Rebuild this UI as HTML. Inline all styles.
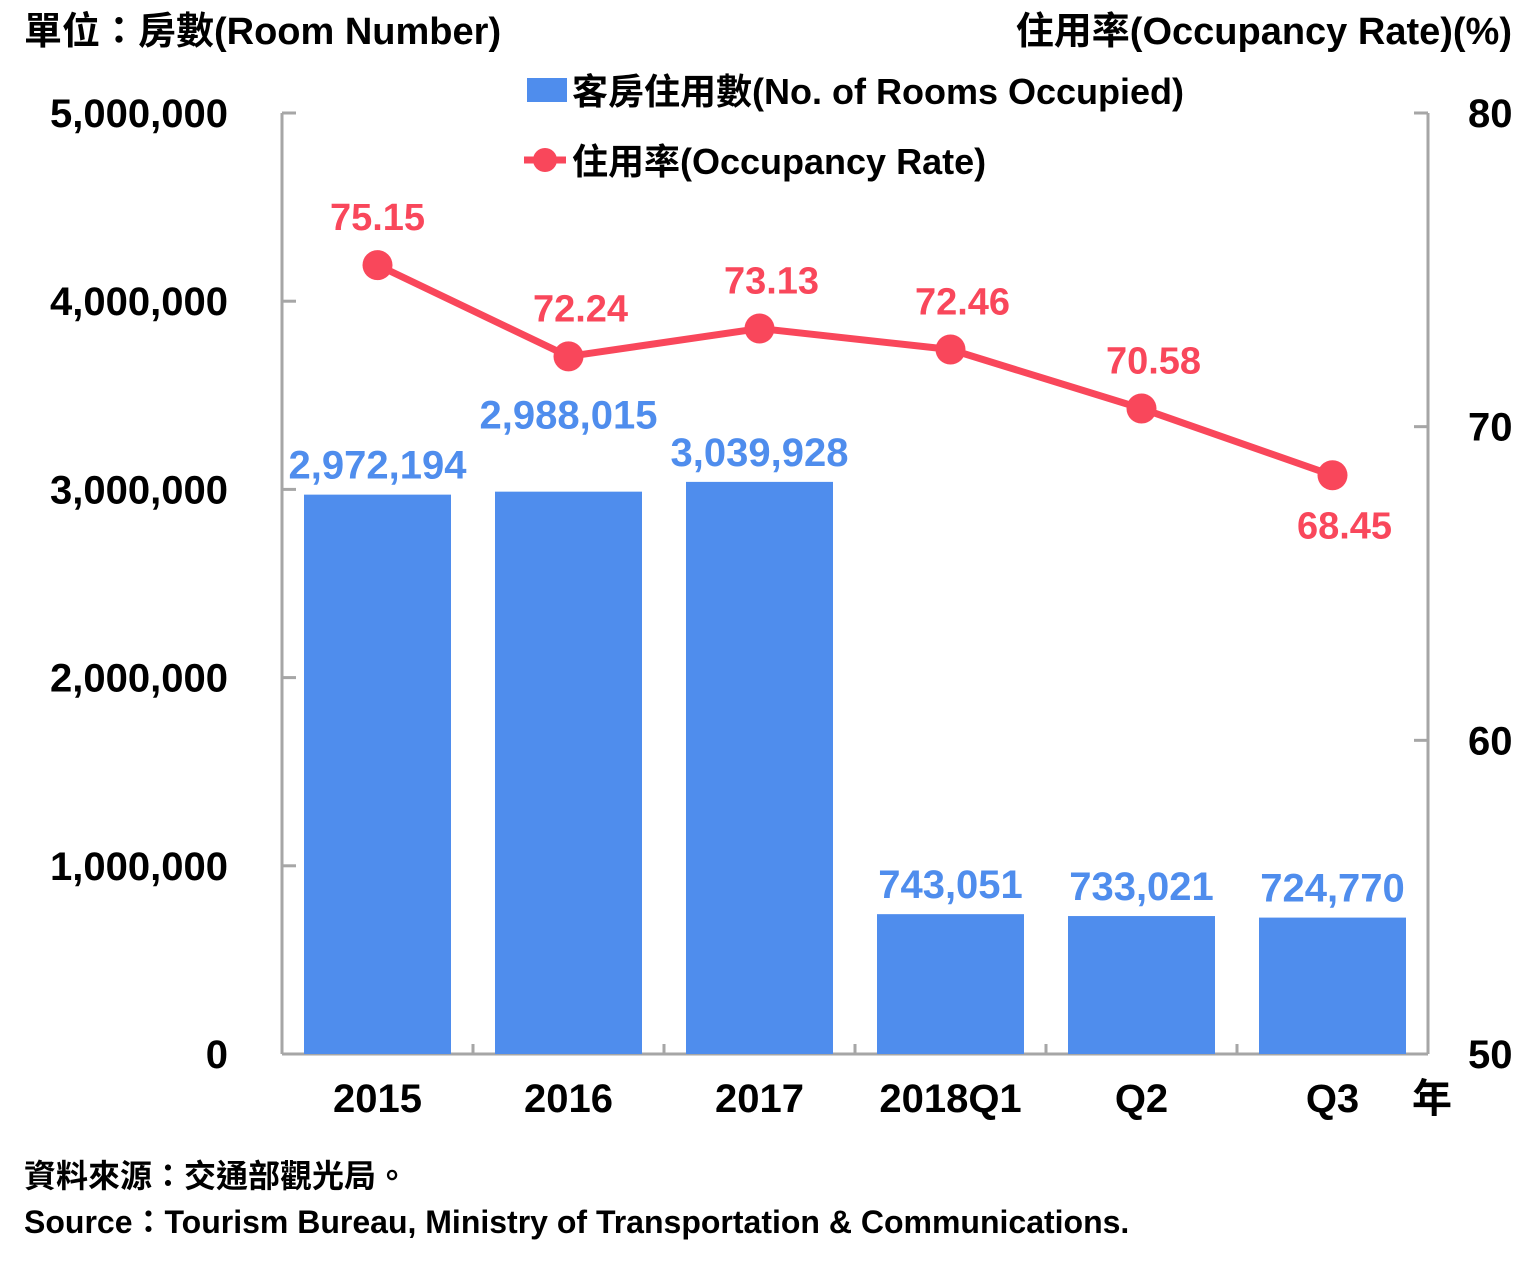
<!DOCTYPE html>
<html><head><meta charset="utf-8">
<style>
html,body{margin:0;padding:0;background:#fff;}
svg{display:block;font-family:"Liberation Sans","Noto Sans CJK TC",sans-serif;font-weight:bold;}
</style></head>
<body>
<svg id="chart" width="1523" height="1265" viewBox="0 0 1523 1265" xmlns="http://www.w3.org/2000/svg">
<text x="24" y="44" font-size="38" fill="#000">單位：房數(Room Number)</text>
<text x="1512" y="44" font-size="38" fill="#000" text-anchor="end">住用率(Occupancy Rate)(%)</text>
<g>
<rect x="527" y="78" width="40" height="24" fill="#4f8ded"/>
<text x="572" y="104" font-size="36" fill="#000">客房住用數(No. of Rooms Occupied)</text>
<line x1="524" y1="160" x2="566" y2="160" stroke="#f9475b" stroke-width="7"/>
<circle cx="545" cy="160" r="12" fill="#f9475b"/>
<text x="572" y="174" font-size="36" fill="#000">住用率(Occupancy Rate)</text>
</g>
<g id="axes"></g>
<g id="bars"></g>
<g id="line"></g>
<text x="1412" y="1112" font-size="40" fill="#000">年</text>
<text x="24" y="1187" font-size="32" fill="#000">資料來源：交通部觀光局。</text>
<text x="24" y="1233" font-size="32" fill="#000">Source：Tourism Bureau, Ministry of Transportation &amp; Communications.</text>
</svg>
<script>
const categories = ["2015","2016","2017","2018Q1","Q2","Q3"];
const rooms = [2972194,2988015,3039928,743051,733021,724770];
const rates = [75.15,72.24,73.13,72.46,70.58,68.45];
const leftTicks = [0,1000000,2000000,3000000,4000000,5000000];
const rightTicks = [50,60,70,80];

const NS="http://www.w3.org/2000/svg";
const X0=282,X1=1428,Y0=1054,Y1=113;
const band=(X1-X0)/categories.length;
const xc=i=>X0+band*(i+0.5);
const yL=v=>Y0-(v/5000000)*(Y0-Y1);
const yR=v=>Y0-((v-50)/30)*(Y0-Y1);
const fmt=v=>v.toLocaleString("en-US");
function mk(tag,attrs,parent,text){const e=document.createElementNS(NS,tag);for(const k in attrs)e.setAttribute(k,attrs[k]);if(text!==undefined)e.textContent=text;parent.appendChild(e);return e;}

const axes=document.getElementById("axes");
let e;
e=mk("line",{x1:X0,y1:Y1,x2:X0,y2:Y0,stroke:"#a6a6a6","stroke-width":3},axes);


e=mk("line",{x1:X1,y1:Y1,x2:X1,y2:Y0,stroke:"#a6a6a6","stroke-width":3},axes);


e=mk("line",{x1:X0,y1:Y0,x2:X1,y2:Y0,stroke:"#a6a6a6","stroke-width":3},axes);


leftTicks.forEach(v=>{
 const y=yL(v);
 mk("line",{x1:X0,y1:y,x2:X0+14,y2:y,stroke:"#a6a6a6","stroke-width":3},axes);
 e=mk("text",{x:228,y:y+14,"font-size":40,"text-anchor":"end",fill:"#000"},axes,fmt(v));
 
 
});
rightTicks.forEach(v=>{
 const y=yR(v);
 mk("line",{x1:X1-14,y1:y,x2:X1,y2:y,stroke:"#a6a6a6","stroke-width":3},axes);
 e=mk("text",{x:1468,y:y+14,"font-size":40,fill:"#000"},axes,String(v));
 
 
});
for(let i=1;i<categories.length;i++){
 mk("line",{x1:X0+band*i,y1:Y0,x2:X0+band*i,y2:Y0-10,stroke:"#a6a6a6","stroke-width":3},axes);
}
categories.forEach((c,i)=>{
 e=mk("text",{x:xc(i),y:1112,"font-size":40,"text-anchor":"middle",fill:"#000"},axes,c);
 
 
});

const bars=document.getElementById("bars");
const bw=147;
rooms.forEach((v,i)=>{
 const y=yL(v);
 e=mk("rect",{x:xc(i)-bw/2,y:y,width:bw,height:Y0-y,fill:"#4f8ded"},bars);
 
 
 e=mk("text",{x:xc(i),y:y-16,"font-size":40,"text-anchor":"middle",fill:"#4f8ded"},bars,fmt(v));
 
 
});
// 2016 label sits higher in reference
bars.children[3].setAttribute("y",yL(rooms[1])-63);

const line=document.getElementById("line");
const pts=rates.map((v,i)=>xc(i)+","+yR(v)).join(" ");
e=mk("polyline",{points:pts,fill:"none",stroke:"#f9475b","stroke-width":7},line);


rates.forEach((v,i)=>{
 const y=yR(v);
 e=mk("circle",{cx:xc(i),cy:y,r:15,fill:"#f9475b"},line);
 
 
 const ly = i===rates.length-1 ? y+63 : y-35;
 e=mk("text",{x:xc(i)+(i===0?0:12),y:ly,"font-size":38,"text-anchor":"middle",fill:"#f9475b"},line,v.toFixed(2));
 
 
});
</script>
</body></html>
